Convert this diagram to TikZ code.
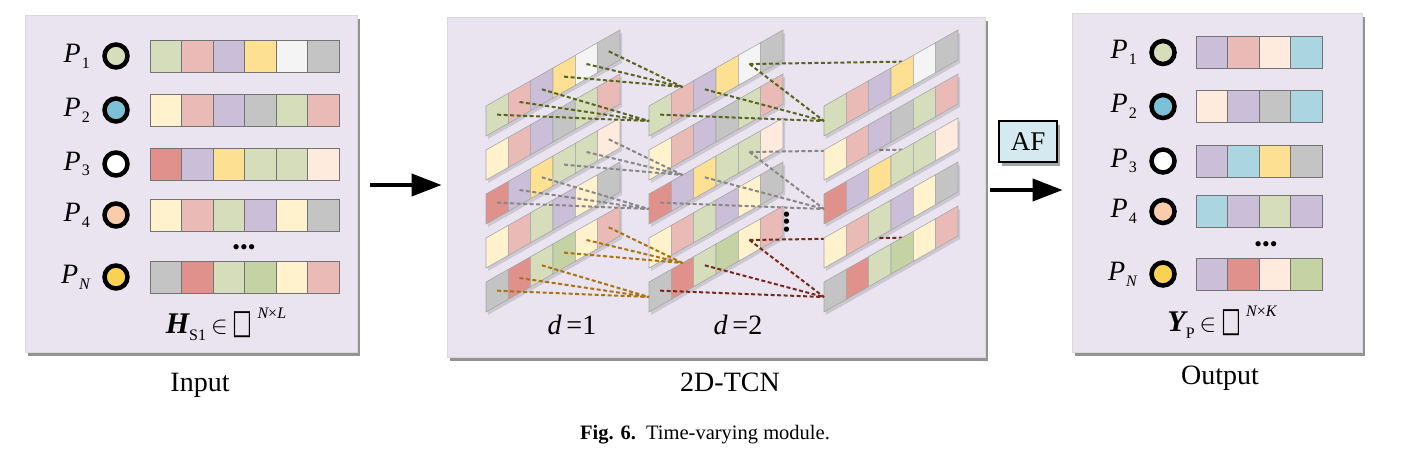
\documentclass[tikz,border=0pt]{standalone}
\usepackage{fontspec}
\setmainfont{Liberation Serif}
\newfontfamily\symfont{DejaVu Sans}
\usetikzlibrary{arrows.meta,shadows}

\definecolor{panelbg}{RGB}{233,228,240}
\definecolor{afbg}{RGB}{213,233,241}
\definecolor{cg}{RGB}{214,221,186}
\definecolor{cp}{RGB}{234,187,182}
\definecolor{cv}{RGB}{203,190,216}
\definecolor{cy}{RGB}{253,224,145}
\definecolor{cw}{RGB}{244,244,244}
\definecolor{ck}{RGB}{196,196,196}
\definecolor{cc}{RGB}{255,242,205}
\definecolor{cr}{RGB}{224,145,139}
\definecolor{ce}{RGB}{255,235,222}
\definecolor{cd}{RGB}{197,210,163}
\definecolor{cb}{RGB}{170,213,225}
\definecolor{d1}{RGB}{214,221,186}
\definecolor{d2}{RGB}{125,193,214}
\definecolor{d4}{RGB}{250,205,170}
\definecolor{d5}{RGB}{248,210,80}
\definecolor{lnol}{RGB}{88,100,30}
\definecolor{lngr}{RGB}{135,135,135}
\definecolor{lnor}{RGB}{170,115,15}
\definecolor{lnrd}{RGB}{118,40,30}

\newcommand{\pname}[1]{\textit{P}\kern1pt\raisebox{-0.45ex}{\fontsize{16}{16}\selectfont #1}}
\newcommand{\setin}[1]{\,$\in$\,{\symfont\fontsize{34}{30}\selectfont\scalebox{0.62}[1]{□}}\,\raisebox{1.1ex}{\fontsize{16}{16}\selectfont #1}}
\newcommand{\tcnlayer}[2]{%
  \foreach \r/\cols in {1/{cg,cp,cv,cy,cw,ck},2/{cc,cp,cv,ck,cg,cp},3/{cr,cv,cy,cg,cg,ce},4/{cc,cp,cg,cv,cc,ck},5/{ck,cr,cg,cd,cc,cp}}{
    \pgfmathsetmacro{\T}{106+44*(\r-1)}
    \fill[black,opacity=.12] ({#2+2},{\T+3}) -- ++(134,-76) -- ++(0,30) -- ++(-134,76) -- cycle;
    \foreach \c [count=\k] in \cols {
      \filldraw[fill=\c,draw=black!35,line width=.6pt] ({#2+22.33*(\k-1)},{\T-12.67*(\k-1)}) -- ++(22.33,-12.67) -- ++(0,30) -- ++(-22.33,12.67) -- cycle;
      \coordinate (m-#1-\r-\k) at ({#2+22.33*(\k-.5)},{\T-12.67*(\k-.5)+15});
      \coordinate (t-#1-\r-\k) at ({#2+22.33*(\k-.5)},{\T-12.67*(\k-.5)});
    }
    \coordinate (l-#1-\r) at (#2,{\T+15});
  }}

\begin{document}
\begin{tikzpicture}[x=1pt,y=-1pt,
    panel/.style={draw=black!15,line width=.8pt,fill=panelbg,drop shadow={shadow xshift=3pt,shadow yshift=-4pt,fill=black!70,opacity=.6}},
    cellbox/.style={draw=black!55,line width=.8pt,minimum width=31.5pt,minimum height=32pt,inner sep=0pt,outer sep=0pt},
    pdot/.style={circle,draw=black,line width=4.5pt,minimum size=23pt,inner sep=0pt},
    lbl/.style={font=\fontsize{28}{32}\selectfont,inner sep=0pt},
    caplbl/.style={font=\fontsize{28}{32}\selectfont},
    bigarrow/.style={line width=4pt,-{Triangle[length=30pt,width=22pt]}},
    dl/.style={dash pattern=on 4pt off 2.5pt,line width=2pt}]
  \useasboundingbox (0,0) rectangle (1410,455);
  \fill[white] (0,0) rectangle (1410,455);

  \node[panel,minimum width=332pt,minimum height=337pt] (inp) at (191,183.5) {};
  \node[panel,minimum width=538pt,minimum height=340pt] (tcn) at (716,187) {};
  \node[panel,minimum width=290pt,minimum height=339pt] (out) at (1217,182.5) {};

  % input
  \foreach \r/\yy/\cols/\dc/\nm in {1/56/{cg,cp,cv,cy,cw,ck}/d1/1,2/110/{cc,cp,cv,ck,cg,cp}/d2/2,3/164/{cr,cv,cy,cg,cg,ce}/white/3,4/215/{cc,cp,cg,cv,cc,ck}/d4/4,5/277/{ck,cr,cg,cd,cc,cp}/d5/{\itshape N}}{
    \node[lbl,anchor=east] (pi-\r) at (90,\yy) {\pname{\nm}};
    \node[pdot,fill=\dc] (ci-\r) at (116,\yy) {};
    \foreach \c [count=\k] in \cols
      \node[cellbox,fill=\c] (hi-\r-\k) at ({150+31.5*(\k-.5)},\yy) {};
  }
  \node[font=\fontsize{22}{22}\selectfont] (hdots) at (244,250) {•••};
  \node[lbl,font=\fontsize{30}{34}\selectfont] (hlab) at (226,324) {{\bfseries\itshape H}\raisebox{-0.5ex}{\fontsize{16}{16}\selectfont S1}\setin{\itshape N\upshape×\itshape L}};
  \node[caplbl] (inlab) at (200,385) {Input};

  % 2D-TCN
  \tcnlayer{1}{486}
  \tcnlayer{2}{649}
  \foreach \r/\cb in {1/lnol,3/lngr,5/lnrd}{
    \coordinate (t-3-\r-4) at ({824+22.33*3.5},{106+44*(\r-1)-12.67*3.5});
    \draw[dl,draw=\cb] (m-2-\r-5) -- (t-3-\r-4);
  }
  \tcnlayer{3}{824}
  \foreach \r/\ca/\cb in {1/lnol/lnol,3/lngr/lngr,5/lnor/lnrd}{
    \foreach \k in {1,2,3}
      \draw[dl,draw=\ca] (m-1-\r-\k) -- (l-2-\r);
    \foreach \k in {4,5,6}
      \draw[dl,draw=\ca] (m-1-\r-\k) -- (t-2-\r-2);
    \foreach \k in {1,3,5}
      \draw[dl,draw=\cb] (m-2-\r-\k) -- (l-3-\r);
  }
  \node[rotate=90,font=\fontsize{22}{22}\selectfont] (vdots) at (789,222) {•••};
  \node[lbl] (dl1) at (572,325) {\textit{d}\,=1};
  \node[lbl] (dl2) at (738,325) {\textit{d}\,=2};
  \node[caplbl] (tcnlab) at (730,382) {2D-TCN};

  % arrows
  \coordinate (a1) at ([xshift=13pt,yshift=-1.5pt]inp.east);
  \draw[bigarrow] (a1) -- ([xshift=-5pt]a1 -| tcn.west);
  \coordinate (a2) at ([xshift=5pt,yshift=-3pt]tcn.east);
  \draw[bigarrow] (a2) -- ([xshift=-9pt]a2 -| out.west);
  \node[draw,line width=2.5pt,fill=afbg,minimum width=58pt,minimum height=41pt,font=\fontsize{27}{30}\selectfont,drop shadow={shadow xshift=3pt,shadow yshift=-4pt,fill=black!70,opacity=.5}] (af) at (1028,141.5) {AF};

  % output
  \foreach \r/\yy/\cols/\dc/\nm in {1/52.5/{cv,cp,ce,cb}/d1/1,2/106.5/{ce,cv,ck,cb}/d2/2,3/161/{cv,cb,cy,ck}/white/3,4/211.5/{cb,cv,cg,cv}/d4/4,5/274/{cv,cr,ce,cd}/d5/{\itshape N}}{
    \node[lbl,anchor=east] (po-\r) at (1137,\yy) {\pname{\nm}};
    \node[pdot,fill=\dc] (co-\r) at (1163,\yy) {};
    \foreach \c [count=\k] in \cols
      \node[cellbox,fill=\c] (yo-\r-\k) at ({1196+31.5*(\k-.5)},\yy) {};
  }
  \node[font=\fontsize{22}{22}\selectfont] (ydots) at (1266,247) {•••};
  \node[lbl,font=\fontsize{30}{34}\selectfont] (ylab) at (1222,322) {{\bfseries\itshape Y}\raisebox{-0.5ex}{\fontsize{16}{16}\selectfont P}\setin{\itshape N\upshape×\itshape K}};
  \node[caplbl] (outlab) at (1220,378) {Output};

  \node[font=\fontsize{20.5}{24}\selectfont] (caption) at (705,435) {\textbf{Fig. 6.}\enspace Time-varying module.};
\end{tikzpicture}
\end{document}
